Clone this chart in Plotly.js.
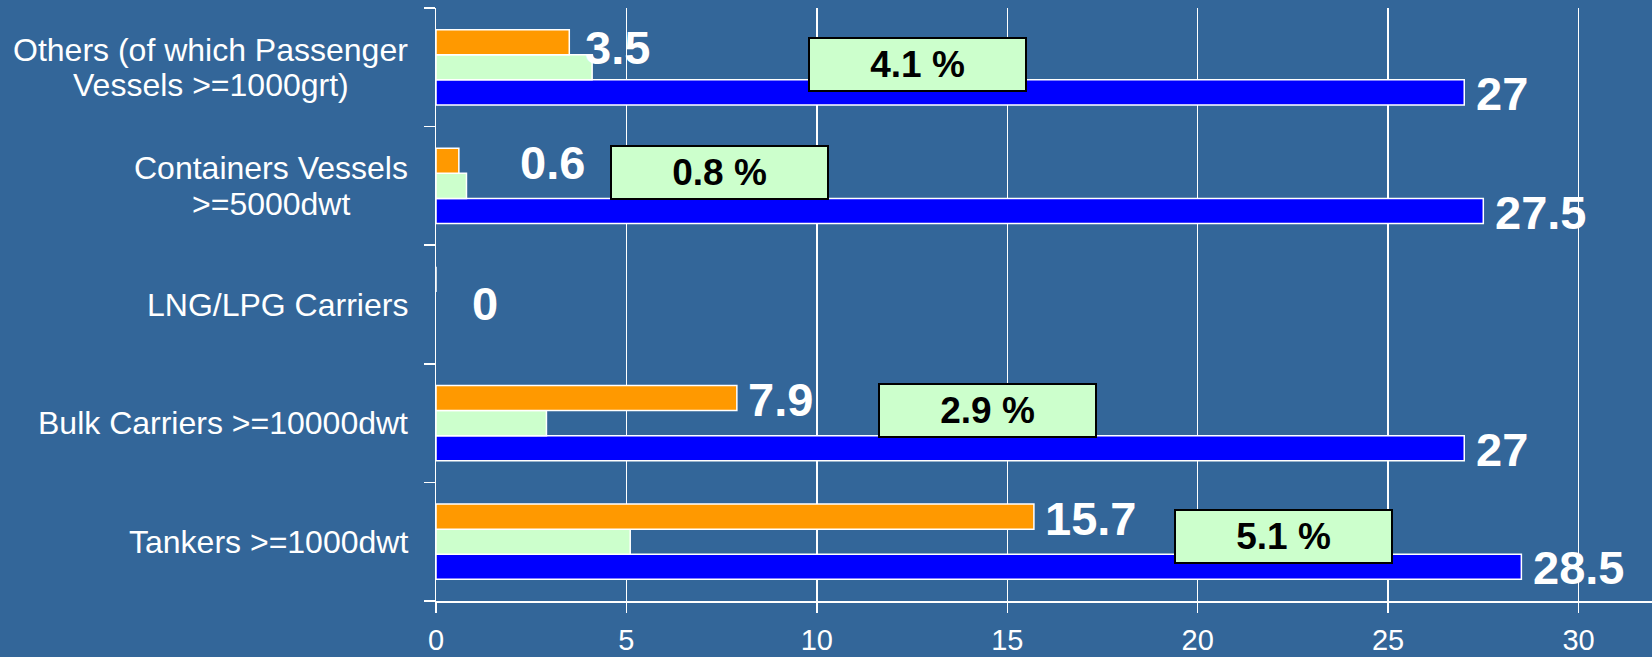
<!DOCTYPE html>
<html>
<head>
<meta charset="utf-8">
<script src="https://cdn.plot.ly/plotly-3.0.1.min.js"></script>
<style>html,body{margin:0;padding:0;background:#336699;}</style>
</head>
<body>
<div id="chart" style="width:1652px;height:657px;"></div>
<script>
// ---- data ----
const categories = ['Tankers >=1000dwt', 'Bulk Carriers >=10000dwt', 'LNG/LPG Carriers', 'Containers Vessels >=5000dwt', 'Others (of which Passenger Vessels >=1000grt)'];
const categoryLines = [['Tankers >=1000dwt'], ['Bulk Carriers >=10000dwt'], ['LNG/LPG Carriers'], ['Containers Vessels', '>=5000dwt'], ['Others (of which Passenger', 'Vessels >=1000grt)']];
const orangeValues = [15.7, 7.9, 0, 0.6, 3.5];
const percentValues = [5.1, 2.9, null, 0.8, 4.1];
const blueValues = [28.5, 27, null, 27.5, 27];
const xTickValues = [0, 5, 10, 15, 20, 25, 30];
const xTickLabels = ['0', '5', '10', '15', '20', '25', '30'];

// ---- label placement (styling, px / axis units) ----
const orangeLabelXShift = [9, 9, 34, 59, 14];
const orangeLabelYShift = [-2, -1.5, -24, -1.5, -5.5];
const percentBoxX = [22.26, 14.48, null, 7.44, 12.64];
const percentBoxYShift = [4.9, 12.2, 0, 13.1, 3];

const BARGAP = 0.365;
const barOffset = (1 - BARGAP) / 3;
const FONT = 'Liberation Sans, Arial, sans-serif';
const CAT_FONT_SIZE = 32;
const CAT_LINE_STEP = 35.5;
const CAT_RIGHT_GAP = 28;
const VALUE_FONT_SIZE = 47;

// measure text width so that multi-line category labels are centred line by line
const ctx = document.createElement('canvas').getContext('2d');
ctx.font = CAT_FONT_SIZE + 'px "Liberation Sans", Arial, sans-serif';
function textWidth(s) { return ctx.measureText(s).width; }

const barLine = {color: '#FFFFFF', width: 1.5};
const traces = [
  {type: 'bar', orientation: 'h', name: 'Series B', y: categories, x: blueValues,
   marker: {color: '#0000FF', line: barLine}, hoverinfo: 'x'},
  {type: 'bar', orientation: 'h', name: 'Percent', y: categories, x: percentValues,
   marker: {color: '#CCFFCC', line: barLine}, hoverinfo: 'x'},
  {type: 'bar', orientation: 'h', name: 'Series A', y: categories, x: orangeValues,
   marker: {color: '#FF9900', line: barLine}, hoverinfo: 'x'}
];

const annotations = [];
// category labels (each line centred within the block, block right-aligned to the axis)
categories.forEach((c, i) => {
  const lines = categoryLines[i];
  const maxW = Math.max.apply(null, lines.map(textWidth));
  const n = lines.length;
  lines.forEach((ln, k) => {
    annotations.push({
      xref: 'paper', yref: 'y', x: 0, y: i, xanchor: 'center', yanchor: 'middle',
      xshift: -(CAT_RIGHT_GAP + maxW / 2),
      yshift: ((n - 1) / 2 - k) * CAT_LINE_STEP,
      text: ln, showarrow: false, align: 'center', borderpad: 0,
      font: {family: FONT, size: CAT_FONT_SIZE, color: '#FFFFFF'}
    });
  });
});
// orange value labels
orangeValues.forEach((v, i) => {
  if (v === null) return;
  annotations.push({
    xref: 'x', yref: 'y', x: v, y: i + barOffset, xanchor: 'left', yanchor: 'middle',
    xshift: orangeLabelXShift[i], yshift: orangeLabelYShift[i], text: String(v), showarrow: false,
    font: {family: FONT, size: VALUE_FONT_SIZE, color: '#FFFFFF', weight: 'bold'}
  });
});
// blue value labels
blueValues.forEach((v, i) => {
  if (v === null) return;
  annotations.push({
    xref: 'x', yref: 'y', x: v, y: i - barOffset, xanchor: 'left', yanchor: 'middle',
    xshift: 10, yshift: -1, text: String(v), showarrow: false,
    font: {family: FONT, size: VALUE_FONT_SIZE, color: '#FFFFFF', weight: 'bold'}
  });
});
// percent boxes
percentValues.forEach((v, i) => {
  if (v === null) return;
  annotations.push({
    xref: 'x', yref: 'y', x: percentBoxX[i], y: i, xanchor: 'center', yanchor: 'middle',
    yshift: percentBoxYShift[i], text: v.toFixed(1) + ' %', showarrow: false,
    width: 211, height: 47, borderpad: 2, borderwidth: 2, bordercolor: '#000000',
    bgcolor: '#CCFFCC', align: 'center', valign: 'middle',
    font: {family: FONT, size: 37, color: '#000000', weight: 'bold'}
  });
});

const layout = {
  width: 1652, height: 657,
  paper_bgcolor: '#336699', plot_bgcolor: '#336699',
  margin: {l: 436, r: 0, t: 8, b: 56, pad: 0},
  barmode: 'group', bargap: BARGAP, bargroupgap: 0,
  showlegend: false,
  font: {family: FONT, color: '#FFFFFF'},
  xaxis: {
    range: [0, 31.93], tickmode: 'array', tickvals: xTickValues, ticktext: xTickLabels,
    showgrid: true, gridcolor: '#FFFFFF', gridwidth: 1.5,
    showline: true, linecolor: '#FFFFFF', linewidth: 1.5,
    ticks: 'outside', ticklen: 10, tickcolor: '#FFFFFF', tickwidth: 1.5,
    tickfont: {family: FONT, size: 29, color: '#FFFFFF'},
    ticklabelstandoff: 3, zeroline: false, fixedrange: true
  },
  yaxis: {
    type: 'category', categoryorder: 'array', categoryarray: categories, range: [-0.5, 4.5],
    showticklabels: false, ticks: 'outside', tickson: 'boundaries', ticklen: 11,
    tickcolor: '#FFFFFF', tickwidth: 1.5,
    showline: true, linecolor: '#FFFFFF', linewidth: 1.5,
    showgrid: false, zeroline: false, fixedrange: true
  },
  annotations: annotations
};

document.fonts && document.fonts.load ? document.fonts.load(ctx.font).then(draw, draw) : draw();
function draw() {
  Plotly.newPlot('chart', traces, layout, {displayModeBar: false, staticPlot: true});
}
</script>
</body>
</html>
